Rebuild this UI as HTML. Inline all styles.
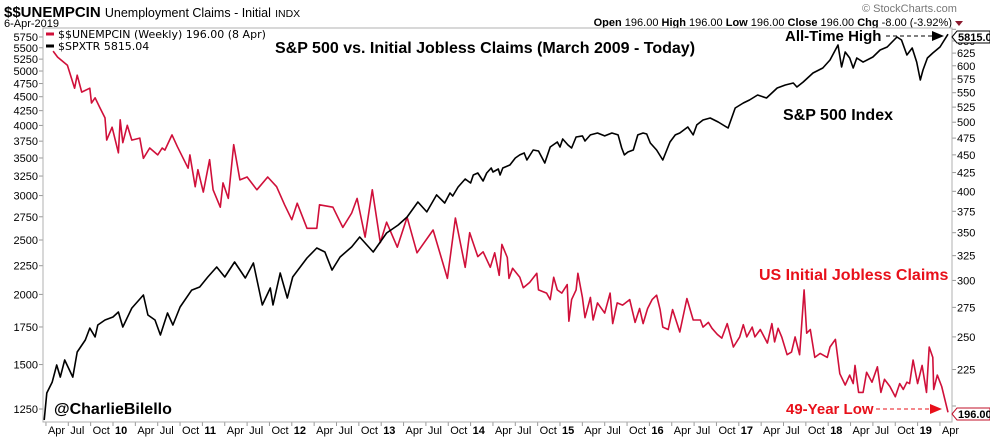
<!DOCTYPE html>
<html><head><meta charset="utf-8">
<style>
body{margin:0;background:#fff;width:990px;height:438px;overflow:hidden;font-family:"Liberation Sans",sans-serif;}
svg{display:block}
</style></head>
<body>
<svg id="chart" width="990" height="438" xmlns="http://www.w3.org/2000/svg">
 <text x="4" y="17" font-size="15" font-weight="bold">$$UNEMPCIN <tspan font-weight="normal" font-size="12.5">Unemployment Claims - Initial</tspan> <tspan font-weight="normal" font-size="10.5">INDX</tspan></text>
 <text x="4" y="27" font-size="11">6-Apr-2019</text>
 <text x="862" y="12" font-size="11" fill="#777">© StockCharts.com</text>
 <text x="952" y="26" font-size="11" text-anchor="end"><tspan font-weight="bold">Open</tspan> 196.00  <tspan font-weight="bold">High</tspan> 196.00  <tspan font-weight="bold">Low</tspan> 196.00  <tspan font-weight="bold">Close</tspan> 196.00  <tspan font-weight="bold">Chg</tspan> -8.00 (-3.92%)</text>
 <polygon points="955,21 963,21 959,26" fill="#8b1a2e"/>
 <g id="grid"></g>
 <rect x="43" y="28" width="909" height="394" fill="none" stroke="#b0b0b0"/>
 <g id="series"></g>
 <line x1="46" y1="34" x2="54" y2="34" stroke="#d0103a" stroke-width="3"/>
 <text x="58" y="38" font-size="11" font-family="DejaVu Sans, sans-serif">$$UNEMPCIN (Weekly) 196.00 (8 Apr)</text>
 <line x1="46" y1="46" x2="54" y2="46" stroke="#000" stroke-width="3"/>
 <text x="58" y="50" font-size="11" font-family="DejaVu Sans, sans-serif">$SPXTR 5815.04</text>
 <text x="275" y="53" font-size="16" font-weight="bold">S&amp;P 500 vs. Initial Jobless Claims (March 2009 - Today)</text>
 <text x="785" y="41" font-size="15" font-weight="bold">All-Time High</text>
 <line x1="886" y1="36" x2="932" y2="36" stroke="#000" stroke-dasharray="4,3"/>
 <polygon points="932,31 944,36 932,41" fill="#000"/>
 <text x="783" y="120" font-size="16" font-weight="bold">S&amp;P 500 Index</text>
 <text x="759" y="280" font-size="16" font-weight="bold" fill="#e8101a">US Initial Jobless Claims</text>
 <text x="786" y="414" font-size="15" font-weight="bold" fill="#e8101a">49-Year Low</text>
 <line x1="876" y1="409" x2="930" y2="409" stroke="#e8101a" stroke-dasharray="4,3"/>
 <polygon points="930,404 942,409 930,414" fill="#e8101a"/>
 <text x="54" y="414" font-size="16" font-weight="bold">@CharlieBilello</text>
 <g><polygon points="952,37 957,31 990,31 990,43 957,43" fill="#fff" stroke="#000"/><text x="958" y="41" font-size="11" font-weight="bold">5815.04</text></g>
 <g><polygon points="952,414 957,408 990,408 990,420 957,420" fill="#fff" stroke="#c0102a"/><text x="958" y="418" font-size="11" font-weight="bold">196.00</text></g>
</svg>
<script>
const claimsDates=[2009.33,2009.38,2009.49,2009.57,2009.60,2009.65,2009.74,2009.76,2009.80,2009.85,2009.91,2009.93,2009.99,2010.06,2010.08,2010.11,2010.16,2010.21,2010.30,2010.34,2010.41,2010.50,2010.55,2010.58,2010.66,2010.72,2010.84,2010.86,2010.92,2010.95,2011.01,2011.08,2011.12,2011.20,2011.23,2011.29,2011.35,2011.42,2011.50,2011.61,2011.73,2011.83,2011.92,2012.00,2012.06,2012.17,2012.28,2012.31,2012.46,2012.57,2012.67,2012.73,2012.82,2012.90,2012.99,2013.06,2013.18,2013.29,2013.40,2013.58,2013.74,2013.83,2013.94,2013.99,2014.08,2014.14,2014.22,2014.27,2014.32,2014.35,2014.41,2014.43,2014.47,2014.55,2014.59,2014.66,2014.74,2014.76,2014.85,2014.89,2014.93,2014.97,2015.02,2015.08,2015.10,2015.13,2015.18,2015.20,2015.25,2015.28,2015.34,2015.37,2015.42,2015.50,2015.56,2015.59,2015.64,2015.70,2015.78,2015.84,2015.89,2015.93,2015.98,2016.03,2016.08,2016.12,2016.15,2016.21,2016.26,2016.34,2016.42,2016.49,2016.57,2016.60,2016.66,2016.70,2016.76,2016.81,2016.87,2016.94,2017.01,2017.05,2017.09,2017.15,2017.18,2017.24,2017.32,2017.37,2017.40,2017.44,2017.48,2017.54,2017.59,2017.63,2017.68,2017.73,2017.76,2017.80,2017.85,2017.91,2017.99,2018.02,2018.08,2018.13,2018.19,2018.24,2018.28,2018.30,2018.34,2018.39,2018.43,2018.49,2018.55,2018.59,2018.63,2018.69,2018.75,2018.80,2018.84,2018.88,2018.91,2018.95,2019.00,2019.05,2019.10,2019.13,2019.17,2019.18,2019.22,2019.27,2019.34];
const claimsValues=[629,617,601,558,582,551,558,532,541,525,507,472,492,453,504,468,495,472,475,445,460,450,460,457,480,462,431,450,406,429,399,443,402,380,411,391,465,415,419,402,419,406,383,365,385,355,355,383,380,356,373,391,345,402,339,362,334,368,328,353,302,367,313,350,324,329,313,328,305,337,323,302,312,303,293,298,307,291,288,282,303,291,288,296,263,282,291,307,284,266,284,264,279,270,288,261,279,277,282,262,274,261,274,282,286,273,258,256,273,254,283,264,264,258,262,257,252,249,261,242,250,260,250,258,250,256,245,261,246,257,250,236,238,250,236,291,253,256,234,237,234,242,248,222,214,221,215,228,209,209,223,216,227,209,218,213,206,215,211,216,215,232,215,228,209,242,234,211,221,213,196];
const spxDates=[2009.23,2009.26,2009.32,2009.37,2009.41,2009.46,2009.55,2009.60,2009.69,2009.74,2009.80,2009.83,2009.91,2010.00,2010.06,2010.11,2010.21,2010.34,2010.39,2010.47,2010.53,2010.61,2010.67,2010.75,2010.88,2010.97,2011.06,2011.16,2011.25,2011.36,2011.48,2011.57,2011.67,2011.76,2011.79,2011.87,2011.95,2012.01,2012.17,2012.28,2012.37,2012.45,2012.54,2012.67,2012.76,2012.91,2012.99,2013.06,2013.19,2013.29,2013.41,2013.51,2013.62,2013.71,2013.77,2013.80,2013.86,2013.94,2014.00,2014.03,2014.08,2014.14,2014.18,2014.23,2014.25,2014.31,2014.33,2014.36,2014.44,2014.50,2014.55,2014.60,2014.63,2014.70,2014.76,2014.83,2014.89,2014.97,2015.00,2015.03,2015.09,2015.13,2015.18,2015.25,2015.28,2015.34,2015.42,2015.50,2015.58,2015.65,2015.69,2015.72,2015.76,2015.82,2015.87,2015.93,2015.97,2016.01,2016.08,2016.15,2016.23,2016.29,2016.34,2016.43,2016.49,2016.53,2016.60,2016.68,2016.77,2016.88,2016.96,2017.05,2017.12,2017.21,2017.31,2017.43,2017.52,2017.61,2017.65,2017.72,2017.83,2017.94,2018.02,2018.11,2018.15,2018.19,2018.24,2018.28,2018.32,2018.39,2018.50,2018.58,2018.66,2018.77,2018.82,2018.88,2018.94,2018.99,2019.03,2019.06,2019.11,2019.17,2019.25,2019.34];
const spxValues=[1195,1335,1396,1497,1425,1528,1425,1579,1659,1742,1680,1764,1801,1823,1861,1750,1891,1995,1838,1801,1693,1853,1764,1899,2036,2062,2148,2238,2148,2284,2139,2275,1915,2053,1915,2184,1971,2148,2322,2419,2380,2210,2332,2430,2531,2380,2480,2573,2659,2748,2922,2805,3008,2910,3032,2995,3107,3211,3158,3264,3291,3185,3291,3359,3305,3345,3264,3359,3401,3500,3544,3572,3471,3616,3601,3429,3661,3737,3661,3783,3692,3646,3815,3831,3753,3847,3878,3831,3878,3847,3646,3544,3587,3616,3847,3878,3862,3722,3616,3471,3737,3847,3878,3974,3847,4008,4090,4124,4056,3958,4296,4385,4440,4531,4476,4664,4721,4760,4683,4779,4959,5063,5231,5564,5083,5406,5275,5063,5275,5187,5297,5450,5518,5749,5679,5339,5495,5187,4819,5021,5275,5383,5518,5815];
const leftTicks=[1250,1500,1750,2000,2250,2500,2750,3000,3250,3500,3750,4000,4250,4500,4750,5000,5250,5500,5750];
const rightTicks=[200,225,250,275,300,325,350,375,400,425,450,475,500,525,550,575,600,625,650,675];
const years=[2009,2010,2011,2012,2013,2014,2015,2016,2017,2018,2019];
const monthLabels=["Apr","Jul","Oct"];

const NS="http://www.w3.org/2000/svg";
function xScale(t){return 113+(t-2010)*89.4;}
function yLeft(v){return 409-243.8*Math.log(v/1250);}
function yRight(v){return 406-309.7*Math.log(v/200);}
function mk(tag,attrs,parent){const e=document.createElementNS(NS,tag);for(const k in attrs)e.setAttribute(k,attrs[k]);parent.appendChild(e);return e;}
const svg=document.getElementById('chart');
const grid=document.getElementById('grid');
const series=document.getElementById('series');

leftTicks.forEach(v=>{
  const y=yLeft(v);
  const t=mk('line',{x1:39,x2:43,y1:y,y2:y,stroke:'#999'},grid);
  
  
  const l=mk('text',{x:38,y:y+4,'font-size':11,'text-anchor':'end'},grid);
  l.textContent=v;
  
  
});
rightTicks.forEach(v=>{
  const y=yRight(v);
  const t=mk('line',{x1:952,x2:956,y1:y,y2:y,stroke:'#999'},grid);
  
  
  if(v===675||v===200) return;
  const l=mk('text',{x:957,y:y+4,'font-size':11},grid);
  l.textContent=v;
  
  
});
years.forEach(yr=>{
  if(yr>2009){
    const x=xScale(yr);
    const t=mk('line',{x1:x,x2:x,y1:422,y2:426,stroke:'#999'},grid);
    
    
    const l=mk('text',{x:x+2,y:434,'font-size':11,'font-weight':'bold'},grid);
    l.textContent=String(yr).slice(2);
    
    
  }
  monthLabels.forEach((m,i)=>{
    const t0=yr+0.25*(i+1);
    if(t0>2019.3) return;
    const x=xScale(t0);
    const t=mk('line',{x1:x,x2:x,y1:422,y2:426,stroke:'#999'},grid);
    
    
    const l=mk('text',{x:x+2,y:434,'font-size':11},grid);
    l.textContent=m;
    
    
  });
});
const cp=mk('path',{d:claimsDates.map((t,i)=>(i?'L':'M')+xScale(t).toFixed(1)+','+yRight(claimsValues[i]).toFixed(1)).join(''),fill:'none',stroke:'#d0103a','stroke-width':1.6,'stroke-linejoin':'round'},series);


const sp=mk('path',{d:spxDates.map((t,i)=>(i?'L':'M')+xScale(t).toFixed(1)+','+yLeft(spxValues[i]).toFixed(1)).join(''),fill:'none',stroke:'#000','stroke-width':1.6,'stroke-linejoin':'round'},series);


</script>
</body></html>
